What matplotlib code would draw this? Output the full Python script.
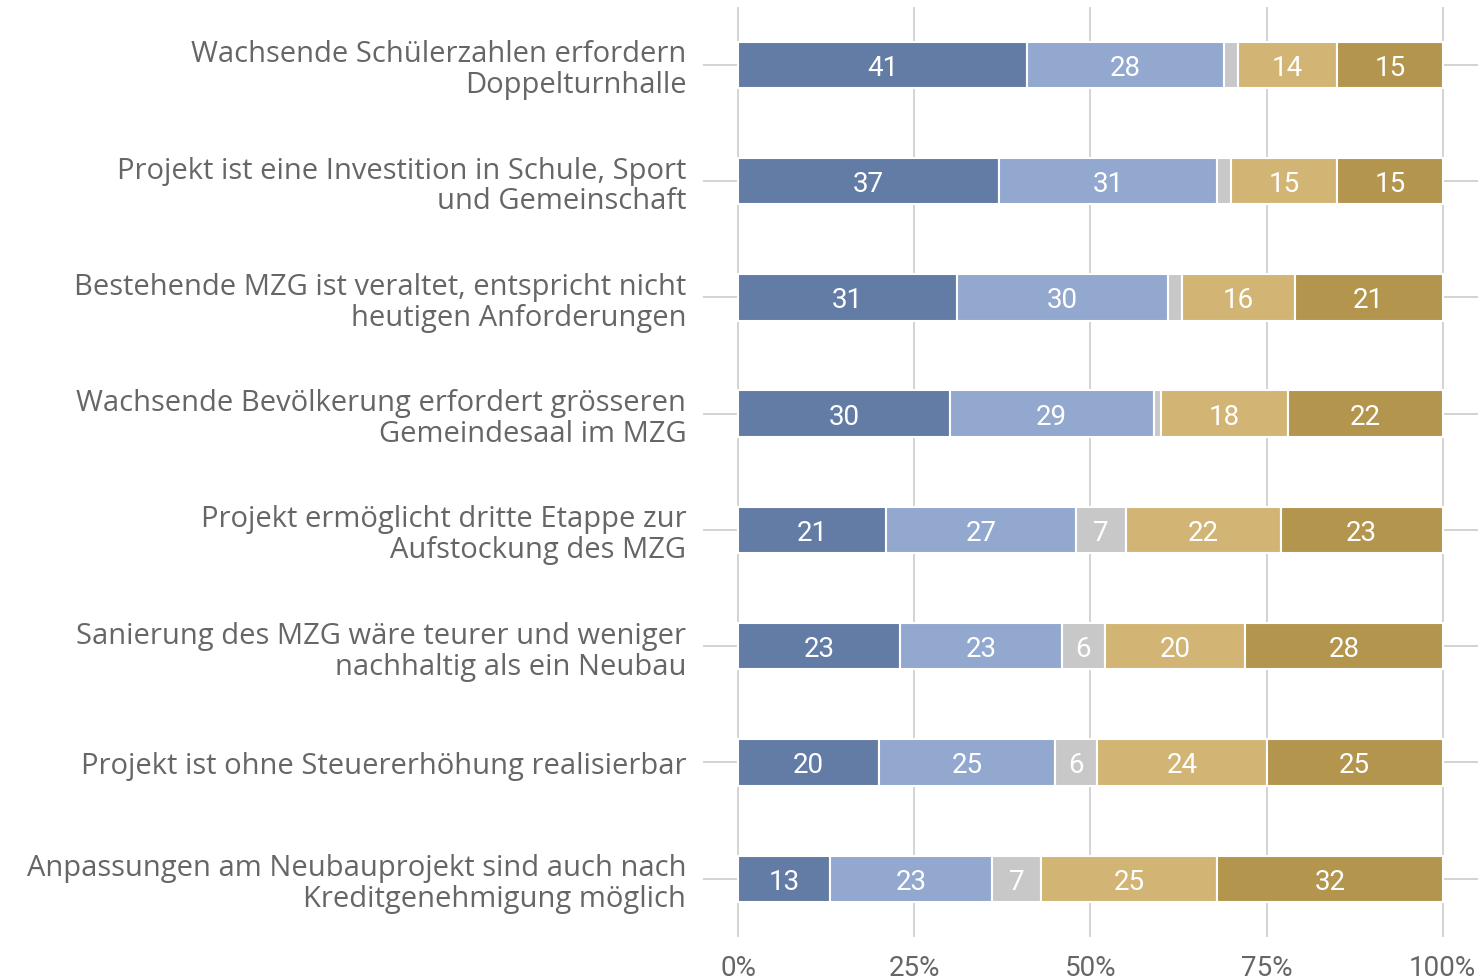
import matplotlib

matplotlib.use("Agg")
import matplotlib.pyplot as plt
import numpy as np

plt.rcParams["font.family"] = ["Roboto", "DejaVu Sans"]

categories = [
    "Wachsende Schülerzahlen erfordern\nDoppelturnhalle",
    "Projekt ist eine Investition in Schule, Sport\nund Gemeinschaft",
    "Bestehende MZG ist veraltet, entspricht nicht\nheutigen Anforderungen",
    "Wachsende Bevölkerung erfordert grösseren\nGemeindesaal im MZG",
    "Projekt ermöglicht dritte Etappe zur\nAufstockung des MZG",
    "Sanierung des MZG wäre teurer und weniger\nnachhaltig als ein Neubau",
    "Projekt ist ohne Steuererhöhung realisierbar",
    "Anpassungen am Neubauprojekt sind auch nach\nKreditgenehmigung möglich",
]

voll_einverstanden = [41, 37, 31, 30, 21, 23, 20, 13]
eher_einverstanden = [28, 31, 30, 29, 27, 23, 25, 23]
weiss_nicht = [2, 2, 2, 1, 7, 6, 6, 7]
eher_nicht = [14, 15, 16, 18, 22, 20, 24, 25]
gar_nicht = [15, 15, 21, 22, 23, 28, 25, 32]

series = [voll_einverstanden, eher_einverstanden, weiss_nicht, eher_nicht, gar_nicht]
colors = ["#637ca6", "#92a8cf", "#c8c8c8", "#d2b574", "#b3954d"]

TEXT = "#666666"
GRID = "#d0d0d0"

fig = plt.figure(figsize=(14.83, 9.79), dpi=100)
ax = fig.add_axes([0.474, 0.042, 0.5226, 0.950])

y = np.arange(len(categories))
left = np.zeros(len(categories))
for vals, col in zip(series, colors):
    vals = np.array(vals, dtype=float)
    bars = ax.barh(y, vals, left=left, height=0.4, color=col,
                   edgecolor="white", linewidth=1.5, zorder=3)
    for b, v in zip(bars, vals):
        if v >= 5:
            ax.text(b.get_x() + b.get_width() / 2, b.get_y() + b.get_height() / 2 + 0.02,
                    f"{int(v)}", ha="center", va="center", color="white",
                    fontsize=20, zorder=4)
    left += vals

ax.set_xlim(-5, 105)
ax.set_ylim(7.5, -0.5)
ax.set_xticks([0, 25, 50, 75, 100])
ax.set_xticklabels(["0%", "25%", "50%", "75%", "100%"])
ax.set_yticks(y)
ax.set_yticklabels(categories, linespacing=1.08, family=["Open Sans", "DejaVu Sans"],
                   fontsize=21)
ax.tick_params(axis="both", length=0, labelsize=20, labelcolor=TEXT)
ax.tick_params(axis="y", pad=12, labelsize=21)
ax.tick_params(axis="x", pad=12)
ax.grid(True, color=GRID, linewidth=1.3, zorder=0)
for s in ax.spines.values():
    s.set_visible(False)

fig.savefig("out.png", dpi=100)
